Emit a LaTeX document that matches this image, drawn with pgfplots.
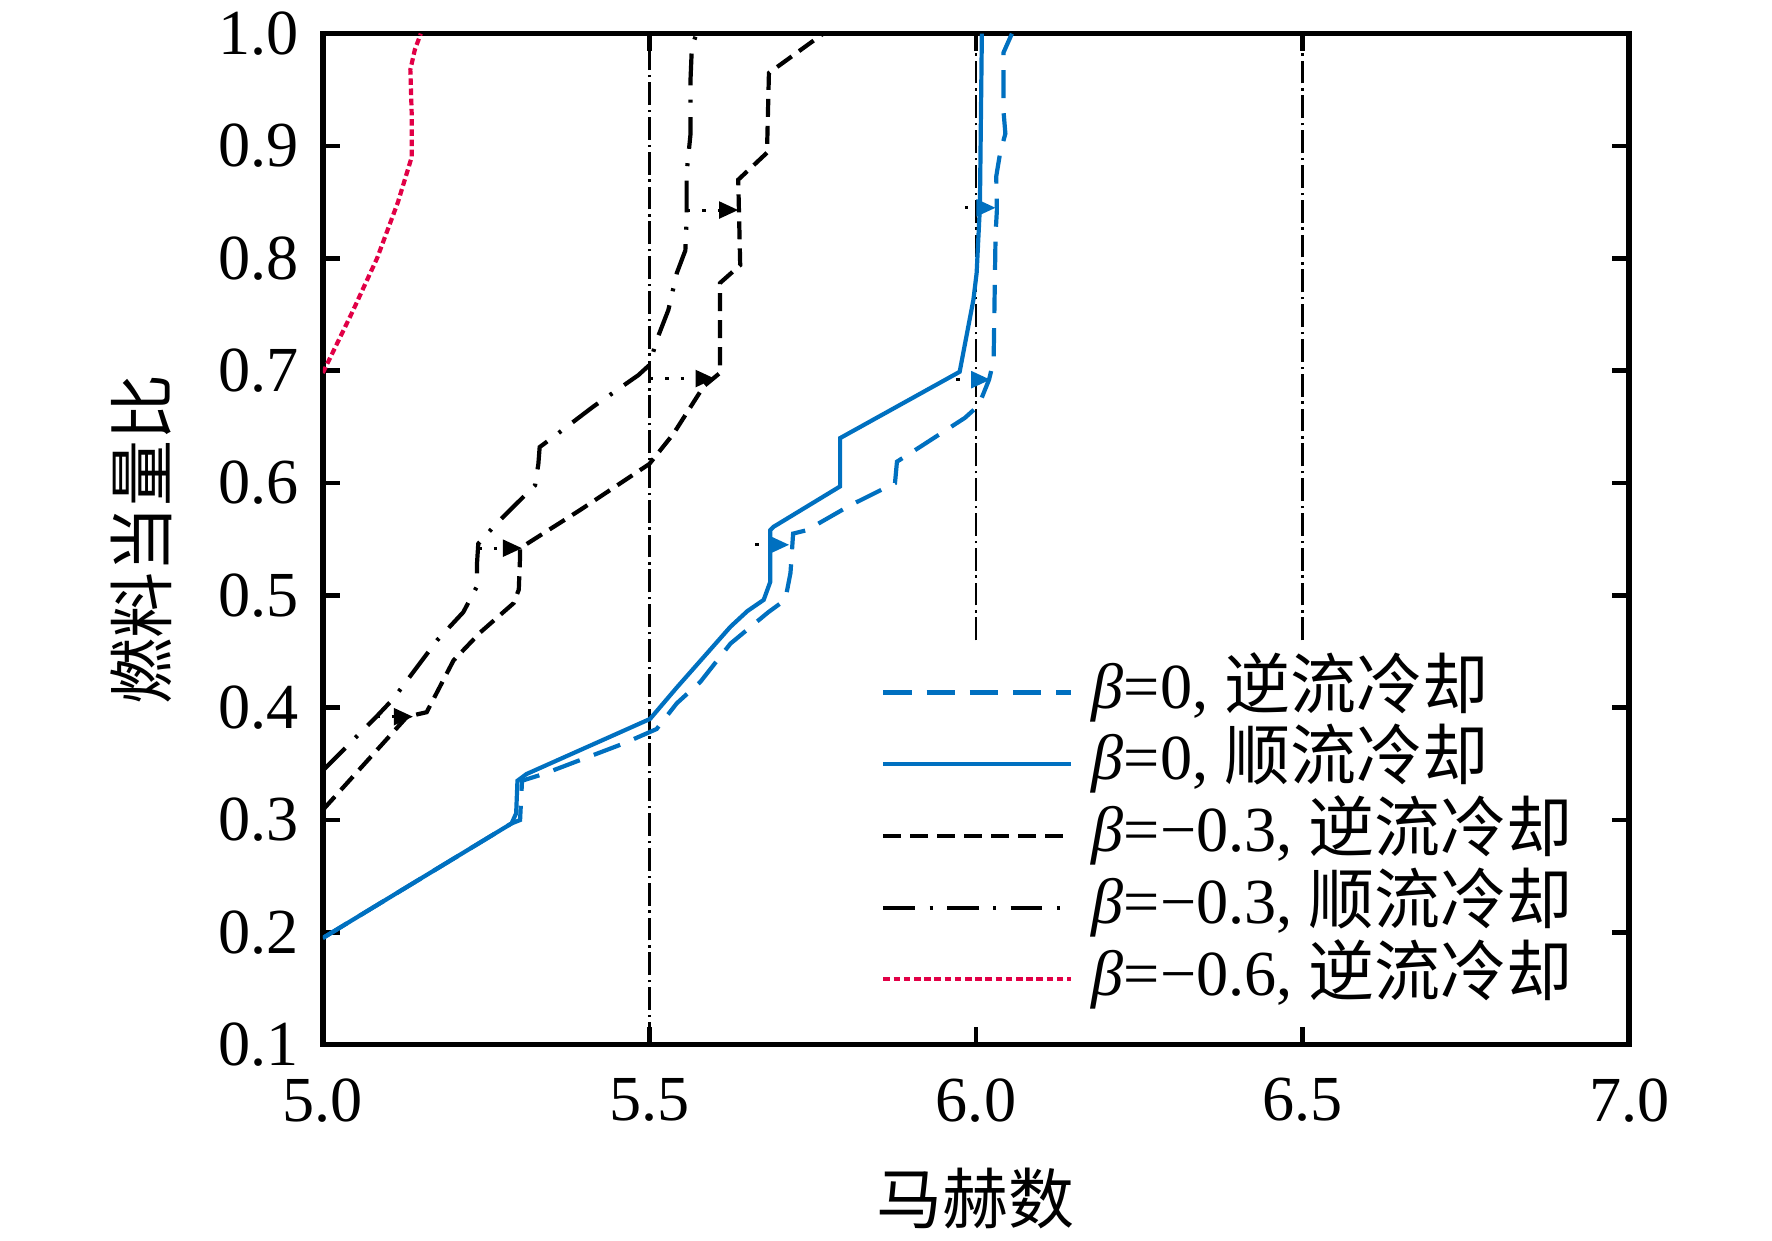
\documentclass[border=0pt]{standalone}
\usepackage{fontspec}
\setmainfont{Liberation Serif}
\newfontfamily\cjk{Noto Sans CJK SC}
\usepackage{pgfplots}
\pgfplotsset{compat=1.18}
\usetikzlibrary{arrows.meta}
\definecolor{bblue}{RGB}{0,112,192}
\definecolor{pred}{RGB}{225,0,70}
\newcommand{\legtxt}[2]{\textit{β}=#1, {\cjk\fontsize{11}{12}\selectfont #2}}
\begin{document}
\begin{tikzpicture}
\begin{axis}[
  width=217.7pt, height=168.5pt, scale only axis,
  xmin=5, xmax=7, ymin=0.1, ymax=1.0,
  xtick={5,5.5,6,6.5,7},
  xticklabels={5.0,5.5,6.0,6.5,7.0},
  ytick={0.1,0.2,0.3,0.4,0.5,0.6,0.7,0.8,0.9,1.0},
  yticklabels={0.1,0.2,0.3,0.4,0.5,0.6,0.7,0.8,0.9,1.0},
  xtick pos=both, ytick pos=both,
  tick align=inside, major tick length=2.9pt,
  tick style={line width=0.8pt, black},
  axis line style={line width=0.9pt},
  ticklabel style={font=\fontsize{10.7}{12}\selectfont, inner sep=1pt},
  yticklabel style={xshift=-2.8pt},
  xticklabel style={yshift=-4.4pt},
  xlabel={\cjk 马赫数}, ylabel={\cjk 燃料当量比},
  label style={font=\fontsize{11}{13}\selectfont, inner sep=0pt},
  xlabel style={at={(axis description cs:0.5,-0.152)}, anchor=center},
  ylabel style={at={(axis description cs:-0.139,0.5)}, anchor=center},
  legend style={draw=none, fill=white, at={(axis description cs:0.4266,0.385)}, anchor=north west,
    inner xsep=0pt, inner ysep=0pt, row sep=0pt,
    font=\fontsize{10.7}{12}\selectfont,
    nodes={inner sep=0pt, text height=8.6pt, text depth=3.35pt},
    /tikz/every odd column/.append style={column sep=3.2pt}},
  legend cell align=left,
  legend image code/.code={\draw[#1] (0pt,0pt) -- (31.2pt,0pt);},
]
% reference lines
\addplot[black, line width=0.4pt, dash pattern=on 3.8pt off 0.8pt on 0.4pt off 0.8pt, forget plot] coordinates {(5.5,0.1) (5.5,1.0)};
\addplot[black, line width=0.4pt, dash pattern=on 3.8pt off 0.8pt on 0.4pt off 0.8pt, forget plot] coordinates {(6.0,0.46) (6.0,1.0)};
\addplot[black, line width=0.4pt, dash pattern=on 3.8pt off 0.8pt on 0.4pt off 0.8pt, forget plot] coordinates {(6.5,0.46) (6.5,1.0)};

% beta=0 counterflow (blue dashed)
\addplot[bblue, line width=0.7pt, dash pattern=on 4.7pt off 2.5pt] coordinates {
(5.000,0.195) (5.289,0.297) (5.302,0.300) (5.305,0.335) (5.338,0.341) (5.460,0.368) (5.511,0.381)
(5.542,0.404) (5.578,0.423) (5.624,0.457) (5.682,0.485) (5.708,0.496) (5.716,0.520) (5.720,0.555)
(5.741,0.558) (5.807,0.580) (5.876,0.600) (5.879,0.619) (5.914,0.632) (5.983,0.658) (6.004,0.669)
(6.020,0.692) (6.027,0.709) (6.030,0.822) (6.032,0.843) (6.031,0.873) (6.037,0.894) (6.045,0.911)
(6.042,0.932) (6.042,0.983) (6.055,1.000)};
\addlegendentry{\legtxt{0}{逆流冷却}}

% beta=0 coflow (blue solid)
\addplot[bblue, line width=0.7pt] coordinates {
(5.000,0.195) (5.289,0.297) (5.296,0.306) (5.298,0.335) (5.312,0.341) (5.501,0.390) (5.542,0.418)
(5.624,0.472) (5.650,0.486) (5.675,0.496) (5.685,0.512) (5.685,0.558) (5.690,0.561) (5.792,0.597)
(5.792,0.640) (5.975,0.699) (5.996,0.763) (6.001,0.787) (6.006,0.846) (6.009,1.000)};
\addlegendentry{\legtxt{0}{顺流冷却}}

% beta=-0.3 counterflow (black dashed)
\addplot[black, line width=0.7pt, dash pattern=on 3pt off 1.5pt] coordinates {
(5.000,0.309) (5.129,0.392) (5.159,0.396) (5.200,0.442) (5.241,0.467) (5.292,0.493) (5.300,0.505)
(5.302,0.535) (5.302,0.542) (5.394,0.576) (5.500,0.617) (5.537,0.644) (5.583,0.686) (5.608,0.698)
(5.608,0.778) (5.639,0.794) (5.636,0.870) (5.680,0.894) (5.683,0.965) (5.690,0.968) (5.766,1.000)};
\addlegendentry{\legtxt{−0.3}{逆流冷却}}

% beta=-0.3 coflow (black dash-dot)
\addplot[black, line width=0.7pt, dash pattern=on 5.3pt off 2.4pt on 0.5pt off 2.4pt] coordinates {
(5.000,0.344) (5.082,0.392) (5.108,0.408) (5.144,0.436) (5.175,0.460) (5.215,0.485) (5.236,0.508)
(5.236,0.528) (5.238,0.546) (5.266,0.564) (5.292,0.579) (5.325,0.598) (5.330,0.617) (5.332,0.632)
(5.353,0.641) (5.414,0.668) (5.483,0.696) (5.500,0.705) (5.511,0.727) (5.529,0.754) (5.542,0.787)
(5.555,0.807) (5.557,0.834) (5.557,0.876) (5.563,0.911) (5.563,0.960) (5.565,0.988) (5.572,1.000)};
\addlegendentry{\legtxt{−0.3}{顺流冷却}}

% beta=-0.6 counterflow (red dotted)
\addplot[pred, line width=0.7pt, dash pattern=on 1.1pt off 0.6pt] coordinates {
(5.000,0.698) (5.045,0.752) (5.083,0.800) (5.115,0.850) (5.136,0.890) (5.136,0.930) (5.134,0.968)
(5.141,0.986) (5.150,1.000)};
\addlegendentry{\legtxt{−0.6}{逆流冷却}}

% transition arrows
\addplot[black, line width=0.5pt, dash pattern=on 0.6pt off 2pt, -{Triangle[length=3.2pt,width=2.8pt]}, forget plot] coordinates {(5.082,0.392) (5.138,0.392)};
\addplot[black, line width=0.5pt, dash pattern=on 0.6pt off 2pt, -{Triangle[length=3.2pt,width=2.8pt]}, forget plot] coordinates {(5.238,0.542) (5.305,0.542)};
\addplot[black, line width=0.5pt, dash pattern=on 0.6pt off 2pt, -{Triangle[length=3.2pt,width=2.8pt]}, forget plot] coordinates {(5.500,0.693) (5.600,0.693)};
\addplot[black, line width=0.5pt, dash pattern=on 0.6pt off 2pt, -{Triangle[length=3.2pt,width=2.8pt]}, forget plot] coordinates {(5.557,0.843) (5.636,0.843)};
\addplot[black, line width=0.5pt, dash pattern=on 0.6pt off 2pt, -{Triangle[length=3.2pt,width=2.8pt,color=bblue]}, forget plot] coordinates {(5.662,0.545) (5.714,0.545)};
\addplot[black, line width=0.5pt, dash pattern=on 0.6pt off 2pt, -{Triangle[length=3.2pt,width=2.8pt,color=bblue]}, forget plot] coordinates {(5.970,0.692) (6.022,0.692)};
\addplot[black, line width=0.5pt, dash pattern=on 0.6pt off 2pt, -{Triangle[length=3.2pt,width=2.8pt,color=bblue]}, forget plot] coordinates {(5.983,0.845) (6.030,0.845)};
\end{axis}
\path (current axis.south west) ++(-53.8pt,-32.6pt) rectangle ++(295.3pt,206.7pt);
\end{tikzpicture}
\end{document}
